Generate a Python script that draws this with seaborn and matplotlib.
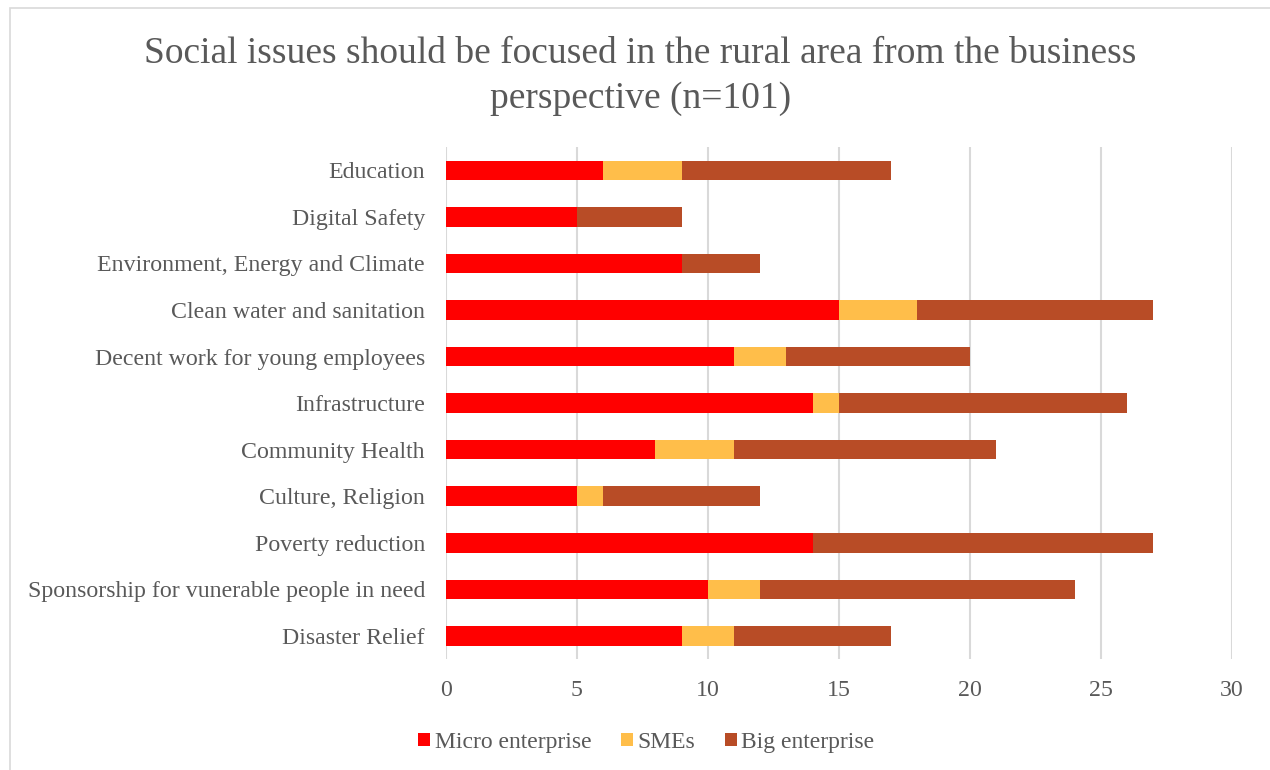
import matplotlib
matplotlib.use("Agg")
import matplotlib.pyplot as plt
import seaborn as sns
import pandas as pd
import numpy as np
from matplotlib.patches import Rectangle, Patch

categories = [
    "Education",
    "Digital Safety",
    "Environment, Energy and Climate",
    "Clean water and sanitation",
    "Decent work for young employees",
    "Infrastructure",
    "Community Health",
    "Culture, Religion",
    "Poverty reduction",
    "Sponsorship for vunerable people in need",
    "Disaster Relief",
]
micro = [6, 5, 9, 15, 11, 14, 8, 5, 14, 10, 9]
smes = [3, 0, 0, 3, 2, 1, 3, 1, 0, 2, 2]
big = [8, 4, 3, 9, 7, 11, 10, 6, 13, 12, 6]
series_names = ["Micro enterprise", "SMEs", "Big enterprise"]
colors = ["#FF0000", "#FFBE4A", "#B84C26"]

sns.set_theme(style="white")
plt.rcParams["font.family"] = ["Liberation Serif", "DejaVu Serif"]
text_color = "#595959"

df = pd.DataFrame({"category": categories, "micro": micro, "smes": smes, "big": big})
df["c1"] = df["micro"]
df["c2"] = df["micro"] + df["smes"]
df["c3"] = df["micro"] + df["smes"] + df["big"]

fig = plt.figure(figsize=(12.7, 7.7), dpi=100)
ax = fig.add_axes([0.351, 0.144, 0.619, 0.665])

# stacked bars drawn back to front from cumulative totals
for col, color in zip(["c3", "c2", "c1"], colors[::-1]):
    sns.barplot(data=df, x=col, y="category", order=categories, color=color,
                saturation=1, width=0.42, ax=ax, edgecolor="none", linewidth=0)

ax.set_xlim(0, 30)
ax.set_xticks(range(0, 31, 5))
ax.set_ylim(len(categories) - 0.5, -0.5)
ax.set_xlabel("")
ax.set_ylabel("")
ax.xaxis.grid(True, color="#d9d9d9", linewidth=1.5)
ax.set_axisbelow(True)
for s in ax.spines.values():
    s.set_visible(False)
ax.tick_params(axis="both", length=0, labelsize=17.2, labelcolor=text_color)
ax.tick_params(axis="y", pad=15)
ax.tick_params(axis="x", pad=15)

fig.suptitle("Social issues should be focused in the rural area from the business\nperspective (n=101)",
             x=0.504, y=0.953, fontsize=27, color=text_color, linespacing=1.4)

handles = [Patch(facecolor=c, edgecolor="none") for c in colors]
fig.legend(handles, series_names, loc="center", bbox_to_anchor=(0.509, 0.036), ncol=3,
           frameon=False, fontsize=17, labelcolor=text_color, handlelength=0.5,
           handleheight=0.5, handletextpad=0.2, columnspacing=1.25)

fig.patches.append(Rectangle((10 / 1270, -0.01), 1.0, 1 - 8 / 770 + 0.01,
                             transform=fig.transFigure, fill=False,
                             edgecolor="#d9d9d9", linewidth=1.2))

fig.savefig("out.png", dpi=100, facecolor="white")
